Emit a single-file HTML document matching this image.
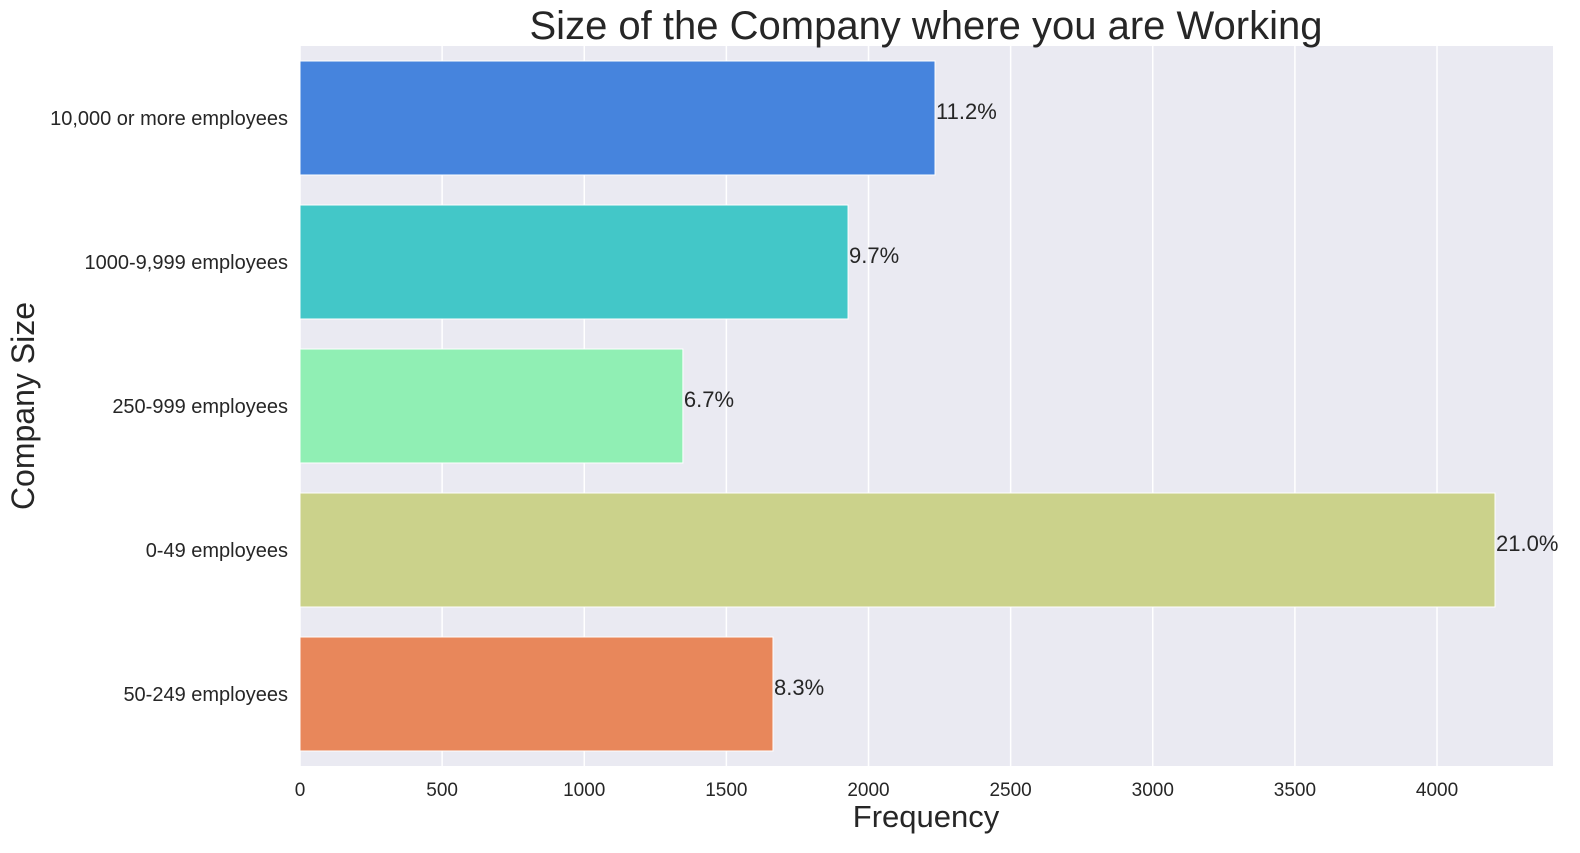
<!DOCTYPE html>
<html><head><meta charset="utf-8"><style>
body{margin:0;background:#fff;font-family:"Liberation Sans",sans-serif;}
</style></head><body>
<svg id="chart" width="1580" height="848" xmlns="http://www.w3.org/2000/svg">
<rect x="300" y="46" width="1253" height="720" fill="#EAEAF2"/>
<g id="grid"></g><g id="bars"></g><g id="labels"></g>
<text x="926" y="39" font-size="40" text-anchor="middle" fill="#262626">Size of the Company where you are Working</text>
<text x="926" y="827" font-size="31" text-anchor="middle" fill="#262626">Frequency</text>
<text x="0" y="0" font-size="32" text-anchor="middle" fill="#262626" transform="translate(34,406) rotate(-90)">Company Size</text>
</svg>
<script>
const categories=["10,000 or more employees","1000-9,999 employees","250-999 employees","0-49 employees","50-249 employees"];
const values=[2234,1928,1347,4204,1664];
const pctLabels=["11.2%","9.7%","6.7%","21.0%","8.3%"];
const colors=["#4684DD","#43C7C8","#90EFB4","#CBD28B","#E8875B"];
const ticks=[0,500,1000,1500,2000,2500,3000,3500,4000];
const NS="http://www.w3.org/2000/svg";
const x0=300,xMaxPx=1553,xMax=4408,plotTop=46,band=144;
const xs=v=>x0+v/xMax*(xMaxPx-x0);
const yc=i=>plotTop+band*(i+0.5);
function mk(t,a,p){const e=document.createElementNS(NS,t);for(const k in a)e.setAttribute(k,a[k]);p.appendChild(e);return e;}
const g=document.getElementById('grid'),b=document.getElementById('bars'),l=document.getElementById('labels');
ticks.forEach(t=>{
 const ln=mk('line',{x1:xs(t),x2:xs(t),y1:plotTop,y2:766,stroke:'#fff','stroke-width':1.5},g);
 
 
 const tx=mk('text',{x:xs(t),y:796,'font-size':19,'text-anchor':'middle',fill:'#262626'},l);
 tx.textContent=t;
 
 
});
categories.forEach((c,i)=>{
 const r=mk('rect',{x:x0,y:yc(i)-57,width:xs(values[i])-x0,height:114,fill:colors[i],stroke:'#fff','stroke-width':1},b);
 
 
 const t=mk('text',{x:288,y:yc(i)+7,'font-size':20,'text-anchor':'end',fill:'#262626'},l);
 t.textContent=c;
 
 
 const p=mk('text',{x:xs(values[i])+1,y:yc(i)+1,'font-size':22,fill:'#262626'},l);
 p.textContent=pctLabels[i];
 
 
});
</script>
</body></html>
